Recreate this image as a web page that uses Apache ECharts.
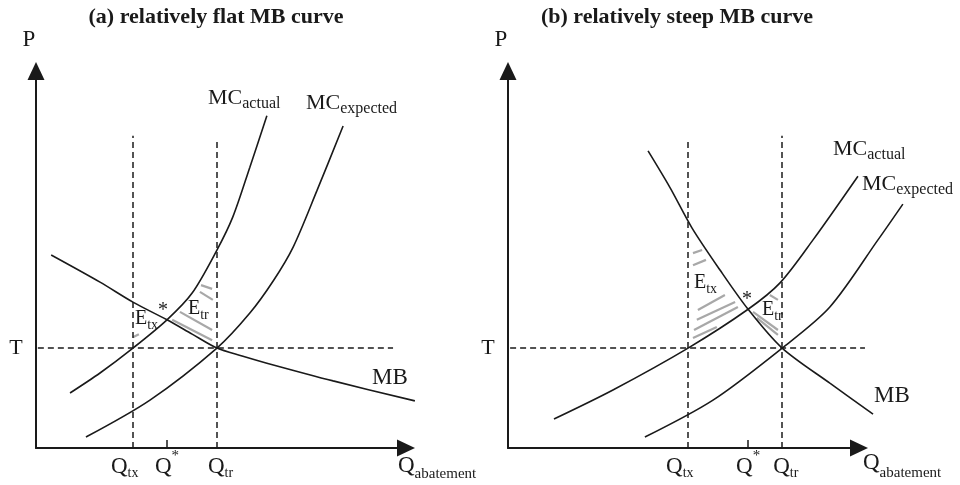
<!DOCTYPE html>
<html>
<head>
<meta charset="utf-8">
<script src="https://cdn.jsdelivr.net/npm/echarts@6/dist/echarts.min.js"></script>
<style>
  html, body { margin: 0; padding: 0; background: #fff; }
  #chart { width: 960px; height: 485px; }
</style>
</head>
<body>
<div id="chart"></div>
<script>
// panel (a): relatively flat MB curve  (units: Q 0..10, P 0..10)
const aMcActual   = [[0.92, 1.46], [1.73, 1.99], [2.62, 2.65], [3.54, 3.40], [4.22, 4.11], [4.89, 5.25], [5.32, 6.13], [5.78, 7.45], [6.24, 8.81]];
const aMcExpected = [[1.35, 0.29], [3.08, 1.27], [4.89, 2.65], [5.78, 3.58], [6.41, 4.43], [6.95, 5.33], [7.59, 6.82], [8.30, 8.54]];
const aMb         = [[0.41, 5.12], [1.73, 4.40], [2.62, 3.87], [3.54, 3.40], [4.22, 3.02], [4.89, 2.65], [5.57, 2.44], [6.24, 2.25], [8.03, 1.78], [10.24, 1.25]];
const aMarks  = { qtx: 2.62, qstar: 3.54, qtr: 4.89, t: 2.65 };
const aGuides = { qtxTop: 8.28, qtrTop: 8.20, tFrom: 0.05, tTo: 9.65 };
const aHatch = [
  [[3.68, 3.40], [4.76, 2.86]],
  [[3.89, 3.61], [4.76, 3.13]],
  [[4.43, 4.14], [4.78, 3.93]],
  [[4.46, 4.32], [4.76, 4.22]],
  [[2.62, 2.94], [2.78, 3.02]]
];

// panel (b): relatively steep MB curve
const bMcActual   = [[1.31, 0.77], [2.99, 1.54], [5.13, 2.65], [6.84, 3.68], [7.75, 4.38], [8.69, 5.52], [9.97, 7.21]];
const bMcExpected = [[3.90, 0.29], [5.84, 1.27], [7.81, 2.65], [9.17, 3.74], [10.54, 5.52], [11.25, 6.47]];
const bMb         = [[3.99, 7.88], [4.62, 6.90], [5.24, 5.84], [6.04, 4.72], [6.84, 3.68], [7.81, 2.65], [9.17, 1.72], [10.40, 0.90]];
const bMarks  = { qtx: 5.13, qstar: 6.84, qtr: 7.81, t: 2.65 };
const bGuides = { qtxTop: 8.17, qtrTop: 8.28, tFrom: 0.06, tTo: 10.17 };
const bHatch = [
  [[5.27, 5.17], [5.53, 5.25]],
  [[5.27, 4.85], [5.64, 4.99]],
  [[5.41, 3.66], [6.18, 4.06]],
  [[5.38, 3.40], [6.47, 3.87]],
  [[5.30, 3.13], [6.55, 3.74]],
  [[5.27, 2.92], [5.95, 3.21]],
  [[7.46, 4.06], [7.69, 3.93]],
  [[6.98, 3.61], [7.69, 3.13]],
  [[7.09, 3.45], [7.69, 3.00]]
];

const titles = ['(a) relatively flat MB curve', '(b) relatively steep MB curve'];
const qTickLabels = [['Q', 'tx'], ['Q', '*'], ['Q', 'tr']];

const FONT = '"Liberation Serif", "Times New Roman", serif';
const INK = '#1a1a1a';

const chart = echarts.init(document.getElementById('chart'));

// visible axes (with arrows) on grids 0/1, the marks on wider hidden grids 2/3 with the same scale
function axisStyle(i) {
  return {
    gridIndex: i, type: 'value', min: 0, max: 10,
    axisLine: { show: true, onZero: false, symbol: ['none', 'triangle'], symbolSize: [17, 18],
                lineStyle: { color: INK, width: 2 } },
    axisTick: { show: false }, axisLabel: { show: false }, splitLine: { show: false }
  };
}
function hiddenAxis(i, max) {
  return { gridIndex: i, type: 'value', min: 0, max: max, show: false };
}

function curve(data, i) {
  return { type: 'line', xAxisIndex: i, yAxisIndex: i, data: data, smooth: 0.3, symbol: 'none',
           silent: true, z: 5, lineStyle: { color: INK, width: 1.6 } };
}

function segs(list, i, style, z) {
  return { type: 'lines', coordinateSystem: 'cartesian2d', xAxisIndex: i, yAxisIndex: i,
           data: list.map(c => ({ coords: c })), silent: true, z: z, lineStyle: style };
}

const panels = [
  { mcA: aMcActual, mcE: aMcExpected, mb: aMb, m: aMarks, g: aGuides, hatch: aHatch },
  { mcA: bMcActual, mcE: bMcExpected, mb: bMb, m: bMarks, g: bGuides, hatch: bHatch }
];

const series = [];
panels.forEach((p, k) => {
  const i = k + 2;
  series.push(segs(p.hatch, i, { color: '#a8a8a8', width: 2.2, opacity: 1 }, 2));
  series.push(segs([
    [[p.m.qtx, 0], [p.m.qtx, p.g.qtxTop]],
    [[p.m.qtr, 0], [p.m.qtr, p.g.qtrTop]],
    [[p.g.tFrom, p.m.t], [p.g.tTo, p.m.t]]
  ], i, { color: INK, width: 1.5, type: [6, 4], opacity: 1 }, 3));
  series.push(segs([[[p.m.qstar, 0], [p.m.qstar, 0.21]]], i, { color: INK, width: 1.5, opacity: 1 }, 3));
  series.push(curve(p.mcA, i));
  series.push(curve(p.mcE, i));
  series.push(curve(p.mb, i));
});

chart.setOption({
  animation: false,
  grid: [
    { left: 36, top: 71, width: 370, height: 377 },
    { left: 508, top: 71, width: 351, height: 377 },
    { left: 36, top: 71, width: 444, height: 377 },
    { left: 508, top: 71, width: 421.2, height: 377 }
  ],
  xAxis: [axisStyle(0), axisStyle(1), hiddenAxis(2, 12), hiddenAxis(3, 12)],
  yAxis: [axisStyle(0), axisStyle(1), hiddenAxis(2, 10), hiddenAxis(3, 10)],
  series: series
});

// text labels
const ctx = document.createElement('canvas').getContext('2d');
function measure(s, size, weight) {
  ctx.font = (weight || 'normal') + ' ' + size + 'px ' + FONT;
  return ctx.measureText(s).width;
}
function txt(x, y, s, size, align, weight) {
  return { type: 'text', x: x, y: y, silent: true, z: 10,
           style: { text: s, fontFamily: FONT, fontSize: size, fontWeight: weight || 'normal',
                    fill: INK, align: align || 'left', verticalAlign: 'middle' } };
}
// main text with a smaller sub/superscript; (x, y) = left edge, mid-height of main
function pair(x, y, main, sub, size, subSize, dy) {
  const w1 = measure(main, size);
  return [txt(x, y, main, size), txt(x + w1, y + dy, sub, subSize)];
}

const gfx = [];
titles.forEach((t, i) => gfx.push(txt(i === 0 ? 216 : 677, 17, t, 22, 'center', 'bold')));

const qShift = [-22, -12, -9];
panels.forEach((p, i) => {
  [p.m.qtx, p.m.qstar, p.m.qtr].forEach((q, k) => {
    const pt = chart.convertToPixel({ gridIndex: i }, [q, 0]);
    const lab = qTickLabels[k];
    const star = lab[1] === '*';
    gfx.push(...pair(pt[0] + qShift[k], 467, lab[0], lab[1], 23, star ? 15 : 14, star ? -11 : 6));
  });
  const tp = chart.convertToPixel({ gridIndex: i }, [0, p.m.t]);
  gfx.push(txt(tp[0] - 20, tp[1], 'T', 22, 'center'));
});

// panel (a) annotations
gfx.push(txt(29, 40, 'P', 23, 'center'));
gfx.push(...pair(208, 98, 'MC', 'actual', 22, 16, 6));
gfx.push(...pair(306, 103, 'MC', 'expected', 22, 16, 6));
gfx.push(txt(390, 378, 'MB', 23, 'center'));
gfx.push(...pair(135, 319, 'E', 'tx', 20, 14, 6));
gfx.push(...pair(188, 309, 'E', 'tr', 20, 14, 6));
gfx.push(txt(163, 311, '*', 20, 'center'));
gfx.push(...pair(398, 466, 'Q', 'abatement', 23, 15, 8));

// panel (b) annotations
gfx.push(txt(501, 40, 'P', 23, 'center'));
gfx.push(...pair(833, 149, 'MC', 'actual', 22, 16, 6));
gfx.push(...pair(862, 184, 'MC', 'expected', 22, 16, 6));
gfx.push(txt(892, 396, 'MB', 23, 'center'));
gfx.push(...pair(694, 283, 'E', 'tx', 20, 14, 6));
gfx.push(...pair(762, 310, 'E', 'tr', 20, 14, 6));
gfx.push(txt(747, 300, '*', 20, 'center'));
gfx.push(...pair(863, 463, 'Q', 'abatement', 23, 15, 10));

chart.setOption({ graphic: gfx });
</script>
</body>
</html>
